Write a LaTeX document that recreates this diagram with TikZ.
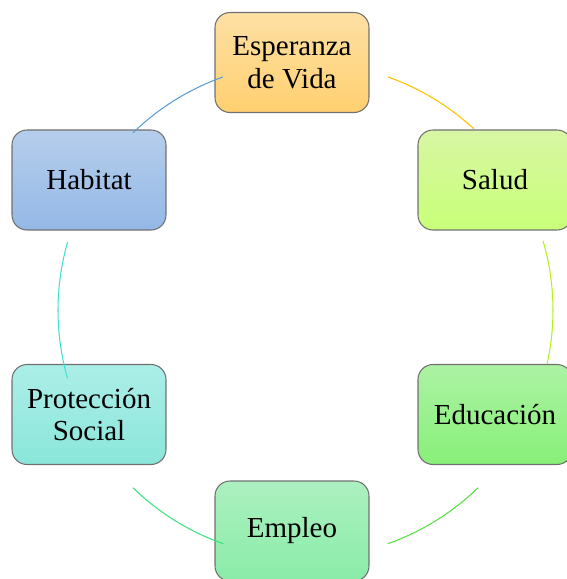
\documentclass[tikz,border=0pt]{standalone}
\usepackage{fontspec}
\setmainfont{Liberation Serif}
\usepackage[usenames,dvipsnames]{xcolor}
\usetikzlibrary{calc}
\definecolor{frame}{RGB}{112,112,112}
\definecolor{espA}{RGB}{254,224,164}\definecolor{espB}{RGB}{255,208,112}
\definecolor{salA}{RGB}{216,246,164}\definecolor{salB}{RGB}{200,255,120}
\definecolor{eduA}{RGB}{172,242,164}\definecolor{eduB}{RGB}{136,240,120}
\definecolor{empA}{RGB}{172,240,192}\definecolor{empB}{RGB}{138,236,168}
\definecolor{proA}{RGB}{172,238,232}\definecolor{proB}{RGB}{138,230,218}
\definecolor{habA}{RGB}{182,206,236}\definecolor{habB}{RGB}{148,184,230}
\definecolor{arcEsp}{RGB}{255,192,0}
\definecolor{arcSal}{RGB}{178,240,30}
\definecolor{arcEdu}{RGB}{84,226,64}
\definecolor{arcEmp}{RGB}{60,224,128}
\definecolor{arcPro}{RGB}{64,224,208}
\definecolor{arcHab}{RGB}{91,155,213}
\tikzset{
  factor/.style={draw=frame, line width=0.6pt, rounded corners=8.5pt,
    minimum width=3.08cm, minimum height=2cm, inner sep=0pt, align=center,
    font=\fontsize{16.5}{18.5}\selectfont},
  link/.style={line width=0.6pt}
}

\begin{document}
\begin{tikzpicture}[x=0.02cm,y=0.02cm]
	\useasboundingbox (0,0) rectangle (566,-579);
	% factores
	\node[factor, top color=espA, bottom color=espB] (esp) at (292,-62.5) {Esperanza\\de Vida};
	\node[factor, top color=salA, bottom color=salB] (sal) at (495,-180) {Salud};
	\node[factor, top color=eduA, bottom color=eduB] (edu) at (495,-414.5) {Educación};
	\node[factor, top color=empA, bottom color=empB] (emp) at (292,-531) {Empleo};
	\node[factor, top color=proA, bottom color=proB] (pro) at (89,-414.5) {Protección\\Social};
	\node[factor, top color=habA, bottom color=habB] (hab) at (89,-180) {Habitat};
	
	% ciclo
	\coordinate (ring) at (305.5,-310.3);
	\draw[link, arcEsp] ($(ring)+(70.5:247.5)$) arc[start angle=70.5, end angle=47.1, radius=247.5];
	\draw[link, arcSal] ($(ring)+(16.3:247.5)$) arc[start angle=16.3, end angle=-12.5, radius=247.5];
	\draw[link, arcEdu] ($(ring)+(-45.8:247.5)$) arc[start angle=-45.8, end angle=-70.6, radius=247.5];
	\draw[link, arcEmp] ($(ring)+(-109.4:247.5)$) arc[start angle=-109.4, end angle=-134.2, radius=247.5];
	\draw[link, arcPro] ($(ring)+(-164.1:247.5)$) arc[start angle=-164.1, end angle=-196, radius=247.5];
	\draw[link, arcHab] ($(ring)+(134.2:247.5)$) arc[start angle=134.2, end angle=109.5, radius=247.5];
\end{tikzpicture}
\end{document}
